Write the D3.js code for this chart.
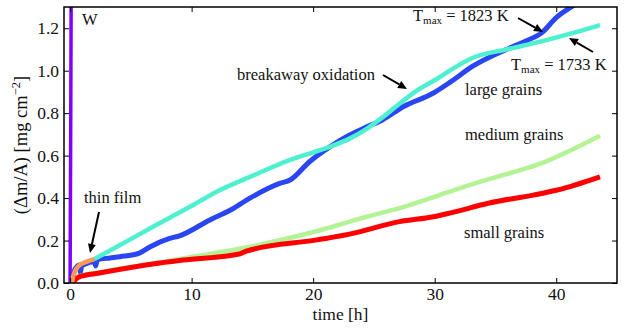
<!DOCTYPE html>
<html lang="en">
<head>
<meta charset="UTF-8">
<title>Oxidation mass gain</title>
<style>
  body { margin: 0; background: #fff; }
</style>
</head>
<body>
<script src="https://d3js.org/d3.v7.min.js"></script>
<script>
// data: time [h], mass gain [mg cm^-2]
const wT = [0.0, 0.05, 0.1];
const wV = [0.0, 0.7, 1.5];

const thinT = [0.15, 0.3, 0.5, 0.8, 1.2, 1.6, 2.0];
const thinV = [0.0, 0.04, 0.065, 0.085, 0.097, 0.105, 0.113];

const hotT = [0.15, 0.3, 0.6, 0.75, 0.85, 0.95, 1.2, 2.0, 2.1, 2.25, 3.3, 4.1, 5.7, 6.6, 8.2, 9.0, 11.5, 13.2, 14.8, 17.3,
  18.1, 19.7, 21.4, 23.0, 24.2, 25.7, 27.4, 29.9, 31.3, 33.1, 35.9, 37.5, 38.8, 40.0, 41.5, 43.5];
const hotV = [0.0, 0.05, 0.08, 0.085, 0.05, 0.08, 0.088, 0.1, 0.08, 0.11, 0.118, 0.124, 0.141, 0.171, 0.21, 0.222, 0.297, 0.344, 0.40, 0.47,
  0.485, 0.571, 0.642, 0.697, 0.73, 0.768, 0.83, 0.895, 0.947, 1.02, 1.10, 1.14, 1.178, 1.25, 1.31, 1.38];

const coolT = [2.0, 4.0, 6.6, 9.9, 12.3, 14.8, 18.1, 21.4, 23.0, 24.5, 25.7, 27.0, 28.5, 30.2, 31.5, 33.1, 35.9, 38.7, 41.4, 43.6];
const coolV = [0.113, 0.175, 0.258, 0.36, 0.437, 0.50, 0.58, 0.642, 0.68, 0.73, 0.78, 0.84, 0.905, 0.962, 1.01, 1.06, 1.10, 1.137, 1.178, 1.215];

const medT = [0.2, 0.8, 2.4, 7.4, 9.3, 14.8, 21.6, 23.0, 24.4, 27.1, 30.4, 32.1, 35.1, 38.4, 43.6];
const medV = [0.0, 0.032, 0.05, 0.097, 0.116, 0.171, 0.265, 0.289, 0.312, 0.353, 0.414, 0.447, 0.5, 0.556, 0.694];

const smallT = [0.2, 0.5, 0.8, 2.4, 7.4, 9.3, 14.0, 14.5, 20.3, 23.0, 27.1, 29.9, 31.3, 34.5, 38.1, 40.1, 43.6];
const smallV = [0.0, 0.02, 0.03, 0.047, 0.094, 0.108, 0.138, 0.15, 0.203, 0.23, 0.289, 0.312, 0.33, 0.377, 0.414, 0.438, 0.50];

const xTicks = [0, 10, 20, 30, 40];
const yTicks = [0.0, 0.2, 0.4, 0.6, 0.8, 1.0, 1.2];

const width = 625, height = 329;
const margin = {top: 7, right: 8, bottom: 46, left: 64};
const serif = "'Liberation Serif', 'Times New Roman', Times, 'DejaVu Serif', serif";

const svg = d3.select("body").append("svg")
    .attr("width", width)
    .attr("height", height)
    .style("font-family", serif);

const x = d3.scaleLinear().domain([-0.5, 45]).range([margin.left, width - margin.right]);
const y = d3.scaleLinear().domain([0, 1.3]).range([height - margin.bottom, margin.top]);

svg.append("defs").append("clipPath").attr("id", "plotclip")
  .append("rect")
    .attr("x", x.range()[0]).attr("y", y.range()[1])
    .attr("width", x.range()[1] - x.range()[0])
    .attr("height", y.range()[0] - y.range()[1]);

const line = d3.line().x(d => x(d[0])).y(d => y(d[1])).curve(d3.curveMonotoneX);
const zip = (t, v) => t.map((d, i) => [d, v[i]]);

const series = [
  {t: wT, v: wV, color: "#8000ff", w: 3.5},
  {t: hotT, v: hotV, color: "#2a46f2", w: 5},
  {t: coolT, v: coolV, color: "#4ef0cf", w: 4.5},
  {t: medT, v: medV, color: "#b3f396", w: 4.5},
  {t: smallT, v: smallV, color: "#ff0000", w: 5},
  {t: thinT, v: thinV, color: "#ff9a55", w: 4.5}
];

const plot = svg.append("g").attr("clip-path", "url(#plotclip)");
plot.selectAll("path.series")
  .data(series)
  .enter().append("path")
    .attr("class", "series")
    .attr("d", d => line(zip(d.t, d.v)))
    .attr("fill", "none")
    .attr("stroke", d => d.color)
    .attr("stroke-width", d => d.w)
    .attr("stroke-linejoin", "round");

// axes with inward ticks on all four sides
const tickLen = 5;
svg.append("g")
    .attr("transform", `translate(0,${y.range()[0]})`)
    .call(d3.axisBottom(x).tickValues(xTicks).tickSizeInner(-tickLen).tickSizeOuter(0).tickPadding(5).tickFormat(d3.format("d")));
svg.append("g")
    .attr("transform", `translate(0,${y.range()[1]})`)
    .call(d3.axisTop(x).tickValues(xTicks).tickSizeInner(-tickLen).tickSizeOuter(0).tickFormat(""));
svg.append("g")
    .attr("transform", `translate(${x.range()[0]},0)`)
    .call(d3.axisLeft(y).tickValues(yTicks).tickSizeInner(-tickLen).tickSizeOuter(0).tickPadding(5).tickFormat(d3.format(".1f")));
svg.append("g")
    .attr("transform", `translate(${x.range()[1]},0)`)
    .call(d3.axisRight(y).tickValues(yTicks).tickSizeInner(-tickLen).tickSizeOuter(0).tickFormat(""));

svg.selectAll(".domain").remove();
svg.selectAll("g").attr("font-family", serif);
svg.selectAll(".tick line").attr("stroke", "#000").attr("stroke-width", 1);
svg.selectAll(".tick text").style("font-size", "17.5px").style("font-family", serif).attr("fill", "#111");

svg.append("rect")
    .attr("x", x.range()[0]).attr("y", y.range()[1])
    .attr("width", x.range()[1] - x.range()[0])
    .attr("height", y.range()[0] - y.range()[1])
    .attr("fill", "none").attr("stroke", "#000").attr("stroke-width", 1.5);

// axis titles
svg.append("text")
    .attr("x", (x.range()[0] + x.range()[1]) / 2).attr("y", 320)
    .attr("text-anchor", "middle").style("font-size", "17.5px").attr("fill", "#111")
    .text("time [h]");

const ylab = svg.append("text")
    .attr("transform", `translate(27,${(y.range()[0] + y.range()[1]) / 2}) rotate(-90)`)
    .attr("text-anchor", "middle").style("font-size", "18.5px").attr("fill", "#111");
ylab.append("tspan").text("(Δm/A) [mg cm");
ylab.append("tspan").attr("dy", -7).style("font-size", "12.5px").text("−2");
ylab.append("tspan").attr("dy", 7).text("]");

// annotations
function label(px, py, parts) {
  const t = svg.append("text").attr("x", px).attr("y", py)
      .style("font-size", "16.5px").attr("fill", "#111");
  parts.forEach(p => {
    const s = t.append("tspan").text(p.s);
    if (p.sub) s.attr("dy", 3).style("font-size", "11px");
    if (p.back) s.attr("dy", -3);
  });
}
label(82, 25, [{s: "W"}]);
label(237, 80, [{s: "breakaway oxidation"}]);
label(84, 203, [{s: "thin film"}]);
label(465, 95, [{s: "large grains"}]);
label(465, 140, [{s: "medium grains"}]);
label(464, 238, [{s: "small grains"}]);
label(413, 21, [{s: "T"}, {s: "max", sub: true}, {s: " = 1823 K", back: true}]);
label(511, 70, [{s: "T"}, {s: "max", sub: true}, {s: " = 1733 K", back: true}]);

function arrow(x1, y1, x2, y2) {
  const a = Math.atan2(y2 - y1, x2 - x1), hl = 9, hw = 4;
  const bx = x2 - hl * Math.cos(a), by = y2 - hl * Math.sin(a);
  svg.append("line")
      .attr("x1", x1).attr("y1", y1).attr("x2", bx).attr("y2", by)
      .attr("stroke", "#000").attr("stroke-width", 2);
  svg.append("path")
      .attr("d", `M${x2},${y2}L${bx + hw * Math.sin(a)},${by - hw * Math.cos(a)}L${bx - hw * Math.sin(a)},${by + hw * Math.cos(a)}Z`)
      .attr("fill", "#000");
}
arrow(383, 75, 407, 89);
arrow(99, 212, 90, 253);
arrow(518, 18, 543, 32);
arrow(593, 52, 569, 38);
</script>
</body>
</html>
